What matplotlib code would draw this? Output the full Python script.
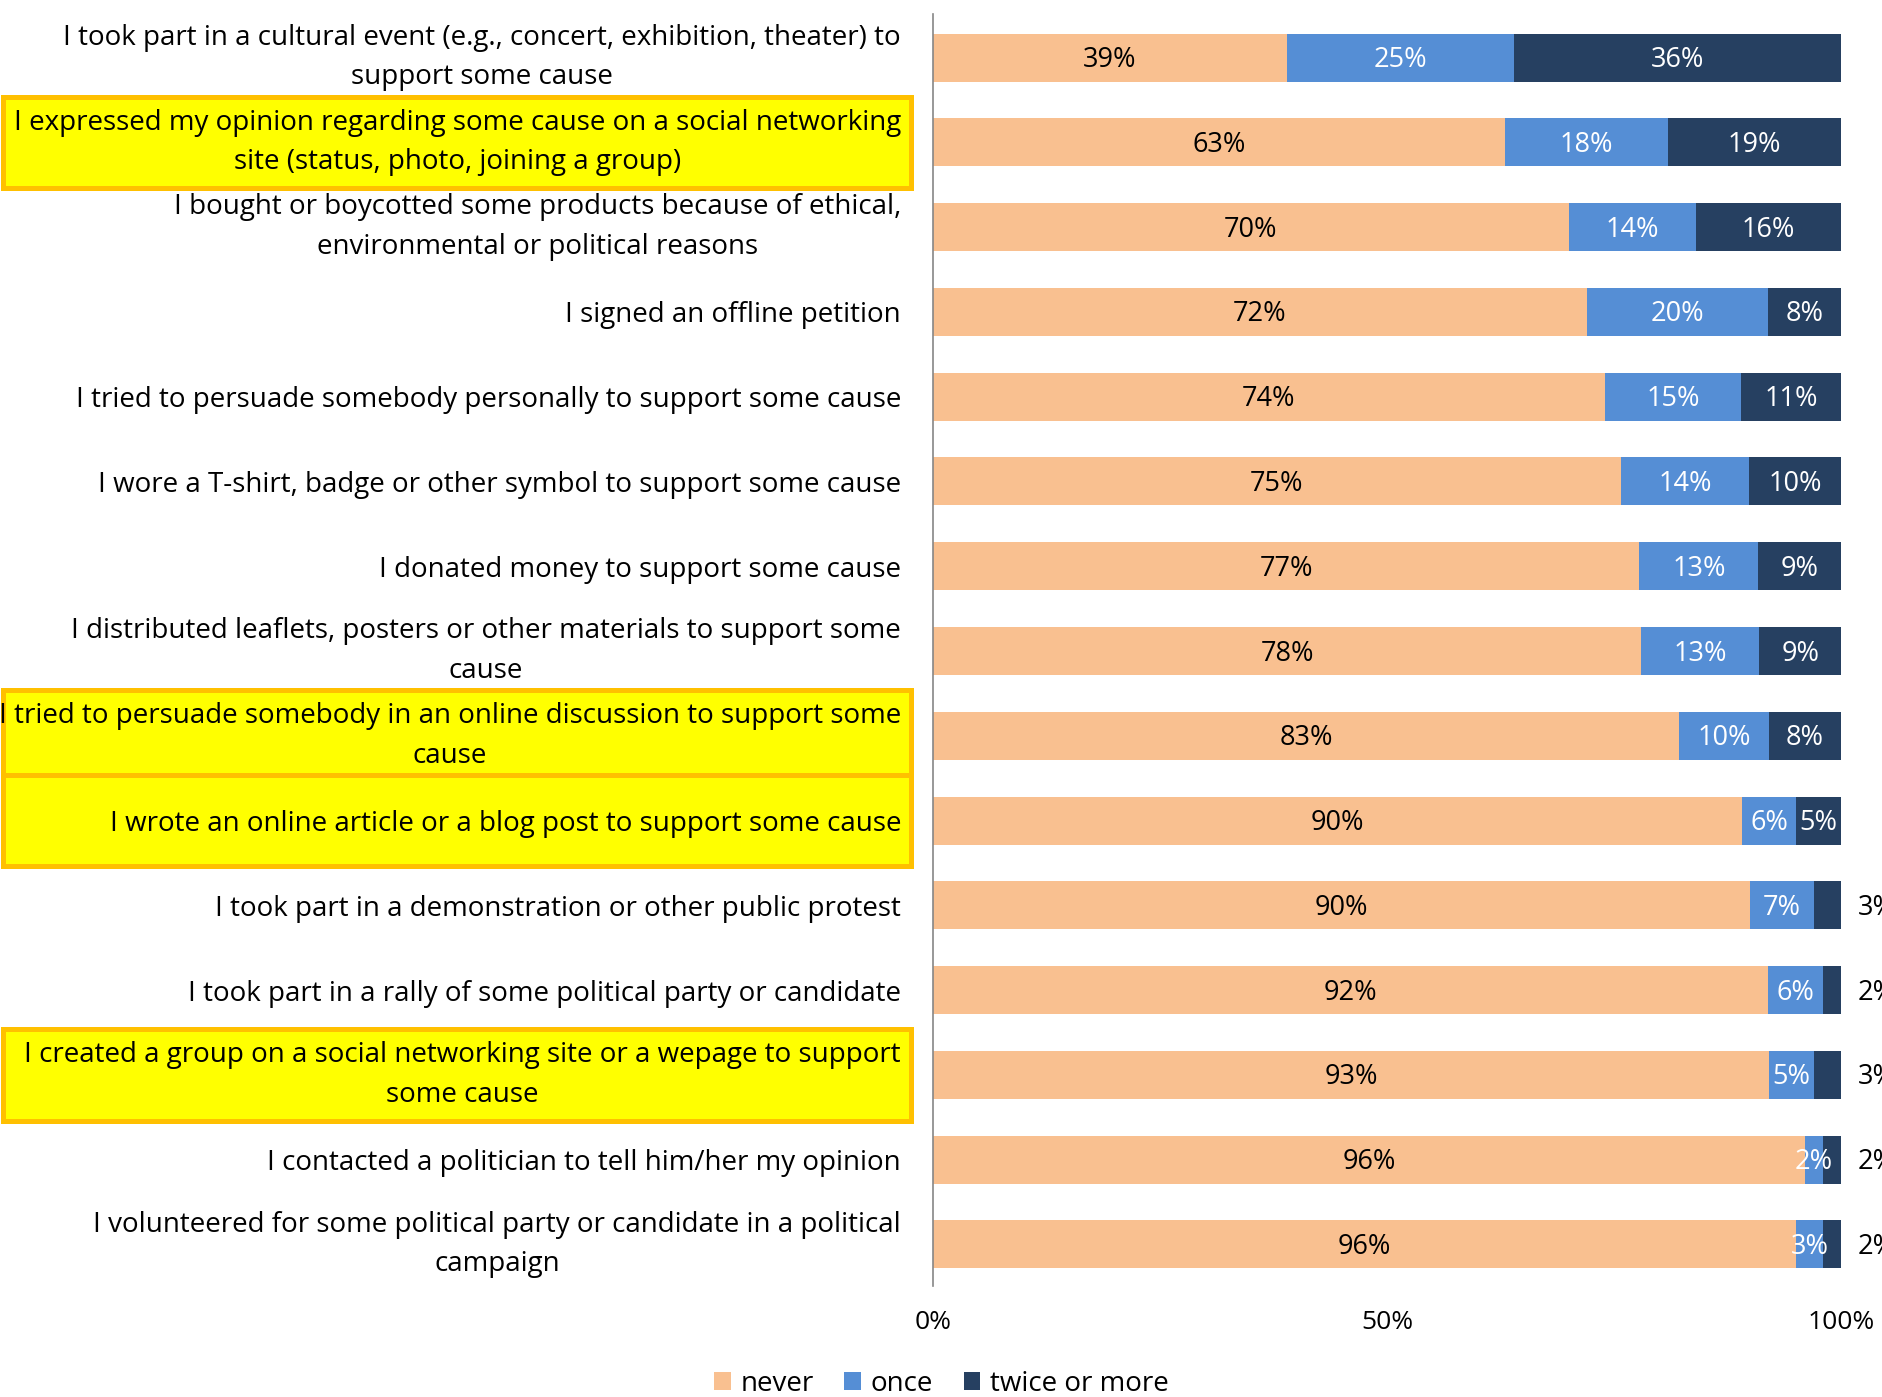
import numpy as np
import matplotlib.pyplot as plt
from matplotlib.patches import Rectangle
import matplotlib.transforms as mtransforms

plt.rcParams['font.family'] = ['Open Sans', 'DejaVu Sans']

# Activities, top to bottom
actividades = [
    "I took part in a cultural event (e.g., concert, exhibition, theater) to\nsupport some cause",
    "I expressed my opinion regarding some cause on a social networking\nsite (status, photo, joining a group)",
    "I bought or boycotted some products because of ethical,\nenvironmental or political reasons",
    "I signed an offline petition",
    "I tried to persuade somebody personally to support some cause",
    "I wore a T-shirt, badge or other symbol to support some cause",
    "I donated money to support some cause",
    "I distributed leaflets, posters or other materials to support some\ncause",
    "I tried to persuade somebody in an online discussion to support some\ncause",
    "I wrote an online article or a blog post to support some cause",
    "I took part in a demonstration or other public protest",
    "I took part in a rally of some political party or candidate",
    "I created a group on a social networking site or a wepage to support\nsome cause",
    "I contacted a politician to tell him/her my opinion",
    "I volunteered for some political party or candidate in a political\ncampaign",
]
never = [39, 63, 70, 72, 74, 75, 77, 78, 83, 90, 90, 92, 93, 96, 96]
once = [25, 18, 14, 20, 15, 14, 13, 13, 10, 6, 7, 6, 5, 2, 3]
twice = [36, 19, 16, 8, 11, 10, 9, 9, 8, 5, 3, 2, 3, 2, 2]
resaltadas = [1, 8, 9, 12]  # rows with yellow highlight

c_never = '#F9C090'
c_once = '#558ED5'
c_twice = '#264061'

fig = plt.figure(figsize=(18.83, 13.97), dpi=100)
ax = fig.add_axes([933 / 1883, 1 - 1286 / 1397, 908 / 1883, 1272 / 1397])

y = np.arange(len(actividades))
total = np.array(never) + np.array(once) + np.array(twice)
f_never = np.array(never) / total
f_once = np.array(once) / total
f_twice = np.array(twice) / total

h = 0.566
ax.barh(y, f_never, height=h, color=c_never, label='never')
ax.barh(y, f_once, left=f_never, height=h, color=c_once, label='once')
ax.barh(y, f_twice, left=f_never + f_once, height=h, color=c_twice, label='twice or more')

fs = 19.5
dy = 0.03  # small nudge so the numbers sit in the middle of the bar
for i in y:
    ax.text(f_never[i] / 2, i + dy, f"{never[i]}%", ha='center', va='center',
            fontsize=fs, color='black')
    ax.text(f_never[i] + f_once[i] / 2, i + dy, f"{once[i]}%", ha='center', va='center',
            fontsize=fs, color='white')
    if twice[i] > 3:
        ax.text(f_never[i] + f_once[i] + f_twice[i] / 2, i + dy, f"{twice[i]}%",
                ha='center', va='center', fontsize=fs, color='white')
    else:
        ax.text(1.018, i + dy, f"{twice[i]}%", ha='left', va='center',
                fontsize=fs, color='black', clip_on=False)

ax.set_xlim(0, 1)
ax.set_ylim(14.49, -0.514)
ax.set_xticks([0, 0.5, 1])
ax.set_xticklabels(['0%', '50%', '100%'])
ax.set_yticks(y)
ax.set_yticklabels(actividades)
for t in ax.get_yticklabels():
    t.set_multialignment('center')
    if '\n' in t.get_text():
        t.set_linespacing(1.55)
        t.set_verticalalignment('center')
ax.tick_params(axis='y', length=0, pad=23, labelsize=20)
ax.tick_params(axis='x', length=0, pad=17, labelsize=19)
for s in ['top', 'right', 'bottom']:
    ax.spines[s].set_visible(False)
ax.spines['left'].set_color('#868686')
ax.spines['left'].set_linewidth(1.2)

# yellow highlight boxes behind some labels
trans = mtransforms.blended_transform_factory(fig.transFigure, ax.transData)
for i in resaltadas:
    r = Rectangle((3 / 1883, i - 0.54), 908 / 1883, 1.08, transform=trans,
                  facecolor='#FFFF00', edgecolor='#FFC000', linewidth=3.6,
                  zorder=-1, clip_on=False)
    fig.add_artist(r)

fig.legend(loc='center', bbox_to_anchor=(0.5, 1 - 1384 / 1397), ncol=3,
           frameon=False, fontsize=20, handlelength=0.6, handleheight=0.6,
           handletextpad=0.35, columnspacing=1.1)

fig.savefig('out.png', dpi=100)
